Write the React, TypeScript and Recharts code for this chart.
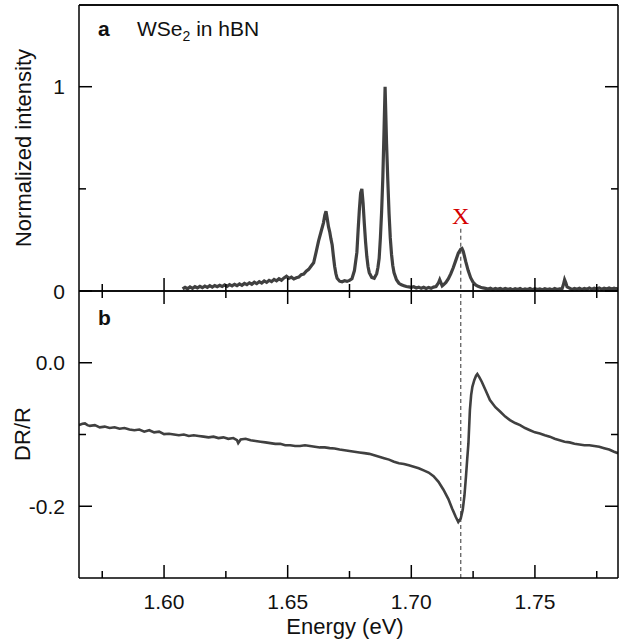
import React from 'react';
import { LineChart, Line, XAxis, YAxis, ReferenceLine, ReferenceDot } from 'recharts';

// ---------- Data ----------
const plEnergy: number[] = [
  1.6075, 1.6085, 1.6095, 1.6105, 1.6115, 1.6125, 1.6135, 1.6145, 1.6155, 1.6165,
  1.6175, 1.6185, 1.6195, 1.6205, 1.6215, 1.6225, 1.6235, 1.6245, 1.6255, 1.6265,
  1.6275, 1.6285, 1.6295, 1.6305, 1.6315, 1.6325, 1.6335, 1.6345, 1.6355, 1.6365,
  1.6375, 1.6385, 1.6395, 1.6405, 1.6415, 1.6425, 1.6435, 1.6445, 1.6455, 1.6465,
  1.6475, 1.6485, 1.6495, 1.6505, 1.6515, 1.6525, 1.6535, 1.6545, 1.6555, 1.6565,
  1.6575, 1.6585, 1.6595, 1.6605, 1.6615, 1.6625, 1.6635, 1.6645, 1.665, 1.6655,
  1.666, 1.6665, 1.667, 1.6675, 1.668, 1.6685, 1.669, 1.6695, 1.67, 1.671,
  1.672, 1.673, 1.674, 1.675, 1.676, 1.677, 1.678, 1.6785, 1.679, 1.6795,
  1.68, 1.6805, 1.681, 1.6815, 1.682, 1.6825, 1.683, 1.684, 1.685, 1.686,
  1.6865, 1.687, 1.6875, 1.688, 1.6885, 1.689, 1.6894, 1.69, 1.6905, 1.691,
  1.6915, 1.692, 1.6925, 1.693, 1.694, 1.695, 1.696, 1.697, 1.698, 1.699,
  1.7, 1.701, 1.702, 1.703, 1.704, 1.705, 1.706, 1.707, 1.708, 1.709,
  1.71, 1.711, 1.7115, 1.712, 1.7125, 1.713, 1.714, 1.715, 1.716, 1.717,
  1.718, 1.719, 1.72, 1.7205, 1.721, 1.722, 1.723, 1.724, 1.725, 1.726,
  1.727, 1.728, 1.729, 1.73, 1.731, 1.732, 1.733, 1.734, 1.735, 1.736,
  1.737, 1.738, 1.739, 1.74, 1.741, 1.742, 1.743, 1.744, 1.745, 1.746,
  1.747, 1.748, 1.749, 1.75, 1.751, 1.752, 1.753, 1.754, 1.755, 1.756,
  1.757, 1.758, 1.759, 1.76, 1.761, 1.7615, 1.762, 1.7625, 1.763, 1.764,
  1.765, 1.766, 1.767, 1.768, 1.769, 1.77, 1.771, 1.772, 1.773, 1.774,
  1.775, 1.776, 1.777, 1.778, 1.779, 1.78, 1.781, 1.782, 1.783, 1.7836,
];
const plIntensity: number[] = [
  0.010, 0.018, 0.011, 0.020, 0.013, 0.021, 0.015, 0.023, 0.016, 0.024,
  0.018, 0.026, 0.019, 0.027, 0.021, 0.028, 0.022, 0.030, 0.023, 0.031,
  0.025, 0.033, 0.026, 0.035, 0.028, 0.037, 0.031, 0.040, 0.033, 0.043,
  0.036, 0.046, 0.039, 0.049, 0.042, 0.052, 0.046, 0.057, 0.050, 0.060,
  0.053, 0.064, 0.072, 0.062, 0.068, 0.059, 0.065, 0.068, 0.080, 0.083,
  0.097, 0.106, 0.122, 0.138, 0.19, 0.245, 0.29, 0.335, 0.37, 0.39,
  0.355, 0.315, 0.29, 0.255, 0.225, 0.17, 0.12, 0.085, 0.062, 0.048,
  0.045, 0.05, 0.047, 0.052, 0.06, 0.1, 0.19, 0.3, 0.4, 0.48,
  0.5, 0.43, 0.33, 0.24, 0.17, 0.12, 0.09, 0.066, 0.062, 0.085,
  0.115, 0.16, 0.26, 0.39, 0.56, 0.8, 1.0, 0.72, 0.54, 0.38,
  0.26, 0.18, 0.125, 0.09, 0.055, 0.038, 0.03, 0.026, 0.022, 0.02,
  0.018, 0.021, 0.015, 0.019, 0.013, 0.018, 0.012, 0.017, 0.013, 0.019,
  0.022, 0.04, 0.055, 0.04, 0.025, 0.03, 0.042, 0.06, 0.085, 0.115,
  0.15, 0.185, 0.205, 0.208, 0.195, 0.145, 0.1, 0.065, 0.043, 0.03,
  0.023, 0.018, 0.015, 0.013, 0.010, 0.014, 0.008, 0.013, 0.009, 0.012,
  0.007, 0.012, 0.008, 0.011, 0.006, 0.011, 0.007, 0.012, 0.006, 0.010,
  0.007, 0.012, 0.006, 0.011, 0.007, 0.010, 0.006, 0.011, 0.007, 0.010,
  0.006, 0.012, 0.007, 0.011, 0.012, 0.03, 0.055, 0.04, 0.02, 0.014,
  0.008, 0.013, 0.009, 0.014, 0.008, 0.013, 0.009, 0.015, 0.009, 0.014,
  0.010, 0.015, 0.009, 0.014, 0.010, 0.015, 0.010, 0.014, 0.010, 0.013,
];

const drEnergy: number[] = [
  1.5656, 1.567, 1.568, 1.569, 1.57, 1.572, 1.574, 1.576, 1.578, 1.58,
  1.582, 1.584, 1.586, 1.588, 1.59, 1.592, 1.594, 1.596, 1.598, 1.6,
  1.602, 1.604, 1.606, 1.608, 1.61, 1.612, 1.614, 1.616, 1.618, 1.62,
  1.622, 1.624, 1.626, 1.628, 1.6295, 1.63, 1.631, 1.633, 1.635, 1.637,
  1.639, 1.641, 1.643, 1.645, 1.647, 1.649, 1.651, 1.653, 1.655, 1.657,
  1.659, 1.661, 1.663, 1.665, 1.667, 1.669, 1.671, 1.673, 1.675, 1.677,
  1.679, 1.681, 1.683, 1.685, 1.687, 1.689, 1.691, 1.693, 1.695, 1.697,
  1.699, 1.701, 1.703, 1.705, 1.707, 1.709, 1.711, 1.713, 1.715, 1.7165,
  1.718, 1.719, 1.72, 1.7208, 1.7215, 1.7221, 1.7226, 1.7231, 1.7237, 1.7242,
  1.7247, 1.7255, 1.7262, 1.7267, 1.7275, 1.7285, 1.73, 1.7318, 1.734, 1.7359,
  1.738, 1.7399, 1.742, 1.744, 1.746, 1.748, 1.75, 1.752, 1.754, 1.756,
  1.758, 1.76, 1.762, 1.764, 1.766, 1.768, 1.77, 1.772, 1.774, 1.776,
  1.778, 1.78, 1.782, 1.7836,
];
const drValue: number[] = [
  -0.087, -0.085, -0.0845, -0.087, -0.088, -0.087, -0.09, -0.089, -0.091, -0.09,
  -0.092, -0.091, -0.093, -0.094, -0.093, -0.096, -0.094, -0.097, -0.096, -0.0995,
  -0.099, -0.1, -0.101, -0.1, -0.102, -0.101, -0.102, -0.103, -0.104, -0.103,
  -0.105, -0.104, -0.106, -0.105, -0.108, -0.112, -0.107, -0.106, -0.108, -0.109,
  -0.11, -0.111, -0.112, -0.113, -0.113, -0.115, -0.115, -0.116, -0.116, -0.115,
  -0.116, -0.117, -0.118, -0.118, -0.119, -0.1195, -0.121, -0.122, -0.123, -0.124,
  -0.125, -0.126, -0.127, -0.129, -0.131, -0.133, -0.135, -0.138, -0.14, -0.141,
  -0.143, -0.145, -0.147, -0.15, -0.153, -0.158, -0.166, -0.177, -0.19, -0.203,
  -0.215, -0.222, -0.217, -0.205, -0.185, -0.159, -0.135, -0.1125, -0.066, -0.045,
  -0.0335, -0.024, -0.018, -0.0158, -0.02, -0.0265, -0.038, -0.052, -0.062, -0.068,
  -0.075, -0.08, -0.084, -0.087, -0.091, -0.094, -0.097, -0.0985, -0.101, -0.103,
  -0.106, -0.108, -0.11, -0.111, -0.113, -0.114, -0.115, -0.115, -0.116, -0.117,
  -0.119, -0.121, -0.124, -0.126,
];

const xMajorTicks: number[] = [1.6, 1.65, 1.7, 1.75];
const xMinorTicks: number[] = [1.575, 1.625, 1.675, 1.725, 1.775];
const plMajorTicks: number[] = [0, 1];
const plMinorTicks: number[] = [0.5];
const drMajorTicks: number[] = [-0.2, 0];
const drMinorTicks: number[] = [-0.1];
const excitonEnergy = 1.72;

const X_DOMAIN: [number, number] = [1.5656, 1.7836];
const PL_DOMAIN: [number, number] = [0, 1.4];
const DR_DOMAIN: [number, number] = [-0.3, 0.1];

const plData = plEnergy.map((e, i) => ({ e, v: plIntensity[i] }));
const drData = drEnergy.map((e, i) => ({ e, v: drValue[i] }));

// ---------- Styles ----------
const FONT = '"Liberation Sans", Arial, Helvetica, sans-serif';
const AXIS_LINE = { stroke: '#000', strokeWidth: 1.5 };
const LINE_COLOR = '#404040';
const MAJOR_LEN = 13;
const MINOR_LEN = 7;

const isIn = (arr: number[], v: number) => arr.some((m) => Math.abs(m - v) < 1e-6);
const allTicks = (a: number[], b: number[]) => [...a, ...b].sort((p, q) => p - q);

const makeXTick = (dir: 'up' | 'down', showLabels: boolean) => (props: any) => {
  const { x, y, payload } = props;
  const v = payload.value as number;
  const major = isIn(xMajorTicks, v);
  const len = major ? MAJOR_LEN : MINOR_LEN;
  return (
    <g>
      <line x1={x} x2={x} y1={y} y2={dir === 'up' ? y - len : y + len} stroke="#000" strokeWidth={1.5} />
      {showLabels && major && (
        <text x={x} y={y + 31} textAnchor="middle" fontFamily={FONT} fontSize={21} fill="#111">
          {v.toFixed(2)}
        </text>
      )}
    </g>
  );
};

const makeYTick = (side: 'left' | 'right', majors: number[], fmt: (v: number) => string) => (props: any) => {
  const { x, y, payload } = props;
  const v = payload.value as number;
  const major = isIn(majors, v);
  const len = major ? MAJOR_LEN : MINOR_LEN;
  return (
    <g>
      <line x1={x} x2={side === 'left' ? x + len : x - len} y1={y} y2={y} stroke="#000" strokeWidth={1.5} />
      {side === 'left' && major && (
        <text x={x - 14} y={y + 7.5} textAnchor="end" fontFamily={FONT} fontSize={21} fill="#111">
          {fmt(v)}
        </text>
      )}
    </g>
  );
};

const fmtPL = (v: number) => String(Math.round(v));
const fmtDR = (v: number) => (Math.abs(v) < 1e-9 ? '0.0' : v.toFixed(1));

export default function App() {
  return (
    <div style={{ position: 'absolute', left: 0, top: 0, width: 624, height: 643, background: '#fff' }}>
      {/* Panel a */}
      <div style={{ position: 'absolute', left: 0, top: 0 }}>
        <LineChart width={624} height={310} data={plData} margin={{ top: 4, right: 0, bottom: 0, left: 0 }}>
          <XAxis
            xAxisId="bottom"
            dataKey="e"
            type="number"
            domain={X_DOMAIN}
            allowDataOverflow
            ticks={allTicks(xMajorTicks, xMinorTicks)}
            interval={0}
            tick={makeXTick('up', false)}
            tickLine={false}
            tickSize={0}
            tickMargin={0}
            axisLine={AXIS_LINE}
            height={19}
          />
          <XAxis
            xAxisId="top"
            orientation="top"
            dataKey="e"
            type="number"
            domain={X_DOMAIN}
            allowDataOverflow
            height={1}
            ticks={[]}
            tick={false}
            tickLine={false}
            axisLine={AXIS_LINE}
          />
          <YAxis
            yAxisId="left"
            type="number"
            domain={PL_DOMAIN}
            allowDataOverflow
            ticks={allTicks(plMajorTicks, plMinorTicks)}
            interval={0}
            tick={makeYTick('left', plMajorTicks, fmtPL)}
            tickLine={false}
            tickSize={0}
            tickMargin={0}
            width={79}
            axisLine={AXIS_LINE}
          />
          <YAxis
            yAxisId="right"
            orientation="right"
            type="number"
            domain={PL_DOMAIN}
            allowDataOverflow
            ticks={allTicks(plMajorTicks, plMinorTicks)}
            interval={0}
            tick={makeYTick('right', plMajorTicks, fmtPL)}
            tickLine={false}
            tickSize={0}
            tickMargin={0}
            width={6}
            axisLine={AXIS_LINE}
          />
          <ReferenceLine xAxisId="bottom" yAxisId="left" y={PL_DOMAIN[1]} stroke="#000" strokeWidth={1.5} />
          <ReferenceLine
            xAxisId="bottom"
            yAxisId="left"
            segment={[{ x: excitonEnergy, y: 0.305 }, { x: excitonEnergy, y: 0 }]}
            stroke="#555"
            strokeWidth={1.2}
            strokeDasharray="4 3"
          />
          <ReferenceDot
            xAxisId="bottom"
            yAxisId="left"
            x={excitonEnergy}
            y={0.372}
            r={0}
            fill="none"
            stroke="none"
            label={{ value: 'X', position: 'center', fill: '#d40000', fontSize: 24, fontFamily: '"Liberation Serif", "Times New Roman", serif' }}
          />
          <Line xAxisId="bottom" yAxisId="left" dataKey="v" type="linear" stroke={LINE_COLOR} strokeWidth={3.2} dot={false} isAnimationActive={false} />
        </LineChart>
      </div>

      {/* Panel b */}
      <div style={{ position: 'absolute', left: 0, top: 290 }}>
        <LineChart width={624} height={353} data={drData} margin={{ top: 0, right: 0, bottom: 0, left: 0 }}>
          <XAxis
            xAxisId="bottom"
            dataKey="e"
            type="number"
            domain={X_DOMAIN}
            allowDataOverflow
            ticks={allTicks(xMajorTicks, xMinorTicks)}
            interval={0}
            tick={makeXTick('up', true)}
            tickLine={false}
            tickSize={0}
            tickMargin={0}
            axisLine={AXIS_LINE}
            height={65}
          />
          <XAxis
            xAxisId="top"
            orientation="top"
            dataKey="e"
            type="number"
            domain={X_DOMAIN}
            allowDataOverflow
            ticks={allTicks(xMajorTicks, xMinorTicks)}
            interval={0}
            tick={makeXTick('down', false)}
            tickLine={false}
            tickSize={0}
            tickMargin={0}
            axisLine={AXIS_LINE}
            height={1}
          />
          <YAxis
            yAxisId="left"
            type="number"
            domain={DR_DOMAIN}
            allowDataOverflow
            ticks={allTicks(drMajorTicks, drMinorTicks)}
            interval={0}
            tick={makeYTick('left', drMajorTicks, fmtDR)}
            tickLine={false}
            tickSize={0}
            tickMargin={0}
            width={79}
            axisLine={AXIS_LINE}
          />
          <YAxis
            yAxisId="right"
            orientation="right"
            type="number"
            domain={DR_DOMAIN}
            allowDataOverflow
            ticks={allTicks(drMajorTicks, drMinorTicks)}
            interval={0}
            tick={makeYTick('right', drMajorTicks, fmtDR)}
            tickLine={false}
            tickSize={0}
            tickMargin={0}
            width={6}
            axisLine={AXIS_LINE}
          />
          <ReferenceLine xAxisId="bottom" yAxisId="left" x={excitonEnergy} stroke="#555" strokeWidth={1.2} strokeDasharray="4 3" />
          <Line xAxisId="bottom" yAxisId="left" dataKey="v" type="linear" stroke={LINE_COLOR} strokeWidth={2.6} dot={false} isAnimationActive={false} />
        </LineChart>
      </div>

      {/* Text annotations */}
      <svg width={624} height={643} style={{ position: 'absolute', left: 0, top: 0, pointerEvents: 'none' }}>
        <g fontFamily={FONT} fill="#111">
          <text x={98} y={36} fontSize={21} fontWeight="bold">a</text>
          <text x={137} y={36} fontSize={21}>
            WSe<tspan fontSize={14} dy={5}>2</tspan>
            <tspan dy={-5}> in hBN</tspan>
          </text>
          <text x={98} y={325} fontSize={21} fontWeight="bold">b</text>
          <text x={31} y={148} fontSize={22} textAnchor="middle" transform="rotate(-90 31 148)">
            Normalized intensity
          </text>
          <text x={30} y={434} fontSize={22} textAnchor="middle" transform="rotate(-90 30 434)">
            DR/R
          </text>
          <text x={345} y={634} fontSize={22} textAnchor="middle">
            Energy (eV)
          </text>
        </g>
      </svg>
    </div>
  );
}
